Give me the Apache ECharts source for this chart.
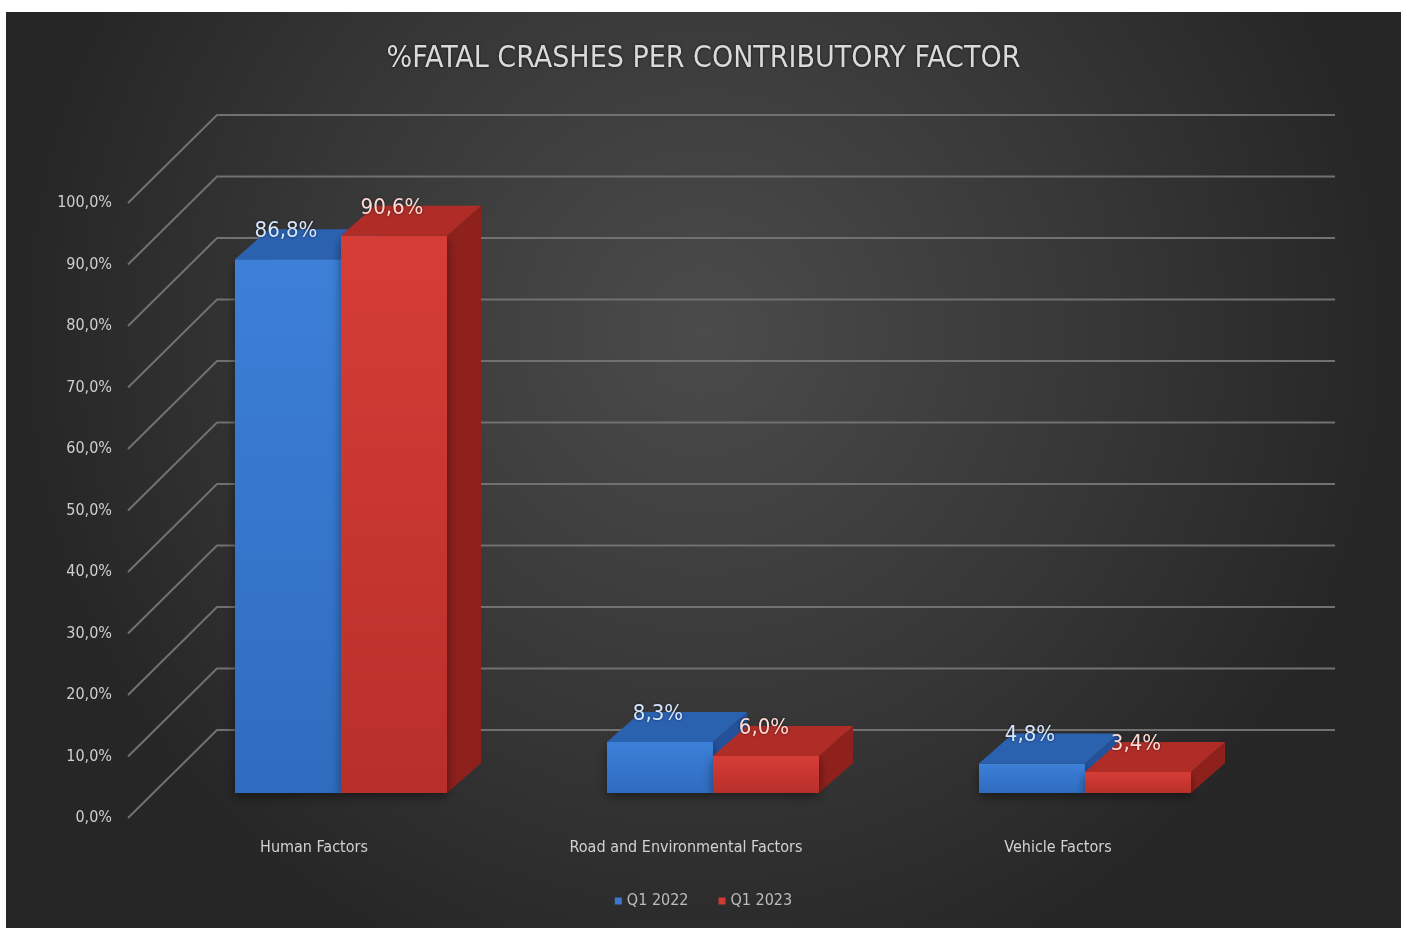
<!DOCTYPE html>
<html>
<head>
<meta charset="utf-8">
<title>%FATAL CRASHES PER CONTRIBUTORY FACTOR</title>
<script src="https://cdn.jsdelivr.net/npm/echarts@6/dist/echarts.min.js"></script>
<style>
  html, body { margin: 0; padding: 0; background: #ffffff; }
  #chart { position: absolute; left: 6px; top: 12px; width: 1395px; height: 916px; }
</style>
</head>
<body>
<div id="chart"></div>
<script>
// ---- data ----
const categories = ['Human Factors', 'Road and Environmental Factors', 'Vehicle Factors'];
const seriesNames = ['Q1 2022', 'Q1 2023'];
const q1_2022 = [86.8, 8.3, 4.8];
const q1_2023 = [90.6, 6.0, 3.4];
const yTicks = [0, 10, 20, 30, 40, 50, 60, 70, 80, 90, 100];

// ---- 3D look ----
const FONT = "'DejaVu Sans Condensed', 'Liberation Sans Narrow', 'Open Sans', sans-serif";
const FLOOR_DX = 89, FLOOR_DY = -88;     // depth of the floor / side wall
const WALL_W = 1118;                     // width of the back wall
const BAR_OX = 27, BAR_OY = -25;         // where the bar fronts sit inside the floor
const BAR_W = 106;                       // width of one bar front
const BAR_DX = 34, BAR_DY = -30;         // depth of a bar
const palette = [
  { front: ['#3d80d8', '#2f6cbf'], top: '#2b62b0', side: '#24529a', label: '#d6e6ff' },
  { front: ['#d63d37', '#b82f2a'], top: '#b02d27', side: '#8f211d', label: '#ffd9d3' }
];

function fmt(v) { return v.toFixed(1).replace('.', ',') + '%'; }

const chart = echarts.init(document.getElementById('chart'), null, { renderer: 'canvas' });

function gridRender(params, api) {
  const cs = params.coordSys;
  const v = api.value(0);
  const y = api.coord([0, v])[1];
  const x0 = cs.x;
  return {
    type: 'polyline',
    shape: { points: [[x0, y], [x0 + FLOOR_DX, y + FLOOR_DY], [x0 + FLOOR_DX + WALL_W, y + FLOOR_DY]] },
    style: { stroke: '#717171', lineWidth: 2, fill: null },
    silent: true
  };
}

function barRender(s) {
  return function (params, api) {
    const i = api.value(0);
    const v = api.value(1);
    const base = api.coord([i, 0]);
    const topP = api.coord([i, v]);
    const xl = base[0] + BAR_OX + (s === 0 ? -BAR_W : 0);
    const xr = xl + BAR_W;
    const yb = base[1] + BAR_OY;
    const yt = topP[1] + BAR_OY;
    const c = palette[s];
    return {
      type: 'group',
      children: [
        {
          type: 'polygon',
          shape: { points: [[xr, yb], [xr + BAR_DX, yb + BAR_DY], [xr + BAR_DX, yt + BAR_DY], [xr, yt]] },
          style: { fill: c.side }
        },
        {
          type: 'rect',
          shape: { x: xl, y: yt, width: BAR_W, height: yb - yt },
          style: {
            fill: new echarts.graphic.LinearGradient(0, 0, 0, 1, [
              { offset: 0, color: c.front[0] }, { offset: 1, color: c.front[1] }
            ]),
            shadowBlur: 10, shadowColor: 'rgba(0,0,0,0.45)', shadowOffsetY: 4
          }
        },
        {
          type: 'polygon',
          shape: { points: [[xl, yt], [xr, yt], [xr + BAR_DX, yt + BAR_DY], [xl + BAR_DX, yt + BAR_DY]] },
          style: { fill: c.top }
        },
        {
          type: 'text',
          style: {
            x: (xl + xr) / 2 - 2, y: yt - 28,
            text: fmt(v),
            fill: c.label,
            font: '22px ' + FONT,
            align: 'center', verticalAlign: 'middle',
            textShadowColor: 'rgba(0,0,0,0.6)', textShadowBlur: 3
          }
        }
      ]
    };
  };
}

const option = {
  backgroundColor: {
    type: 'radial', x: 0.5, y: 0.35, r: 0.75,
    colorStops: [
      { offset: 0, color: '#4b4b4b' },
      { offset: 0.6, color: '#363636' },
      { offset: 1, color: '#262626' }
    ]
  },
  animation: false,
  title: {
    text: '%FATAL CRASHES PER CONTRIBUTORY FACTOR',
    left: 'center', top: 27,
    textStyle: {
      color: '#dadada', fontSize: 30, fontWeight: 'normal', fontFamily: FONT,
      textShadowColor: 'rgba(0,0,0,0.7)', textShadowBlur: 3
    }
  },
  legend: {
    data: seriesNames,
    bottom: 14, left: 'center',
    icon: 'rect', itemWidth: 7, itemHeight: 7, itemGap: 30,
    textStyle: { color: '#bcbcbc', fontSize: 16, fontFamily: FONT }
  },
  grid: { left: 122, right: 157, top: 191, bottom: 110, containLabel: false },
  xAxis: {
    type: 'category',
    data: categories,
    axisLine: { show: false },
    axisTick: { show: false },
    axisLabel: { color: '#d2d2d2', fontSize: 16, fontFamily: FONT, margin: 22 },
    splitLine: { show: false }
  },
  yAxis: {
    type: 'value',
    min: 0, max: 100, interval: 10,
    axisLine: { show: false },
    axisTick: { show: false },
    splitLine: { show: false },
    axisLabel: { color: '#cfcfcf', fontSize: 16, fontFamily: FONT, margin: 16, formatter: fmt }
  },
  series: [
    {
      name: 'wall',
      type: 'custom',
      renderItem: gridRender,
      data: yTicks.map(v => [v]),
      encode: { y: 0 },
      silent: true,
      z: 1
    },
    {
      name: seriesNames[0],
      type: 'custom',
      renderItem: barRender(0),
      data: q1_2022.map((v, i) => [i, v]),
      encode: { x: 0, y: 1 },
      itemStyle: { color: '#3a78d0' },
      z: 2
    },
    {
      name: seriesNames[1],
      type: 'custom',
      renderItem: barRender(1),
      data: q1_2023.map((v, i) => [i, v]),
      encode: { x: 0, y: 1 },
      itemStyle: { color: '#d13a34' },
      z: 3
    }
  ]
};

chart.setOption(option);
</script>
</body>
</html>
